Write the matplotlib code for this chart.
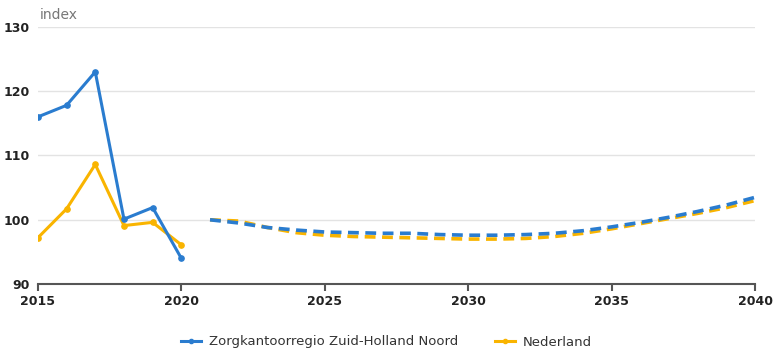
import matplotlib.pyplot as plt
from matplotlib.lines import Line2D

# historische reeks
jaren_hist = [2015, 2016, 2017, 2018, 2019, 2020]
zhn_hist = [116.0, 117.8, 123.0, 100.1, 101.9, 94.0]
nl_hist = [97.2, 101.7, 108.6, 99.1, 99.6, 96.1]

# prognose
jaren_prog = list(range(2021, 2041))
zhn_prog = [100.0, 99.5, 98.8, 98.4, 98.1, 98.0, 97.9, 97.9, 97.7, 97.6,
            97.6, 97.7, 97.9, 98.3, 98.9, 99.6, 100.4, 101.3, 102.3, 103.5]
nl_prog = [100.0, 99.8, 98.8, 98.0, 97.6, 97.4, 97.3, 97.2, 97.1, 97.0,
           97.0, 97.1, 97.4, 97.9, 98.6, 99.4, 100.2, 101.0, 101.9, 103.0]

blauw = '#2a7ccf'
geel = '#f9b400'

fig = plt.figure(figsize=(7.73, 3.49), dpi=100)
ax = fig.add_axes([0.049, 0.186, 0.928, 0.737])

ax.plot(jaren_hist, nl_hist, color=geel, lw=2.2, marker='o', ms=3.8, zorder=3)
ax.plot(jaren_hist, zhn_hist, color=blauw, lw=2.2, marker='o', ms=3.8, zorder=4)
ax.plot(jaren_prog, nl_prog, color=geel, lw=2.6, ls=(0, (3, 1.8)), zorder=3)
ax.plot(jaren_prog, zhn_prog, color=blauw, lw=2.6, ls=(0, (3, 1.8)), zorder=4)

ax.set_xlim(2015, 2040)
ax.set_ylim(90, 130)
ax.set_xticks([2015, 2020, 2025, 2030, 2035, 2040])
ax.set_yticks([90, 100, 110, 120, 130])
ax.grid(axis='y', color='#e3e3e3', lw=1)
ax.set_axisbelow(True)
for s in ['top', 'right', 'left']:
    ax.spines[s].set_visible(False)
ax.spines['bottom'].set_color('#555555')
ax.spines['bottom'].set_linewidth(1.5)
ax.tick_params(axis='x', colors='#555555', width=1.5, length=5, labelcolor='#222222',
               labelsize=9, pad=3)
ax.tick_params(axis='y', length=0, labelsize=9, labelcolor='#222222', pad=6)
for lbl in ax.get_yticklabels() + ax.get_xticklabels():
    lbl.set_fontweight('semibold')

fig.text(40 / 773, 1 - 15 / 349, 'index', color='#777777', fontsize=10, va='center')

handles = [Line2D([], [], color=blauw, lw=2.2, marker='o', ms=3),
           Line2D([], [], color=geel, lw=2.2, marker='o', ms=3)]
fig.legend(handles, ['Zorgkantoorregio Zuid-Holland Noord', 'Nederland'],
           loc='center', bbox_to_anchor=(0.5, 1 - 342 / 349), ncol=2, frameon=False,
           fontsize=9.5, handlelength=1.5, handletextpad=0.6, columnspacing=2.8,
           labelcolor='#333333')

fig.savefig('out.png', dpi=100)
